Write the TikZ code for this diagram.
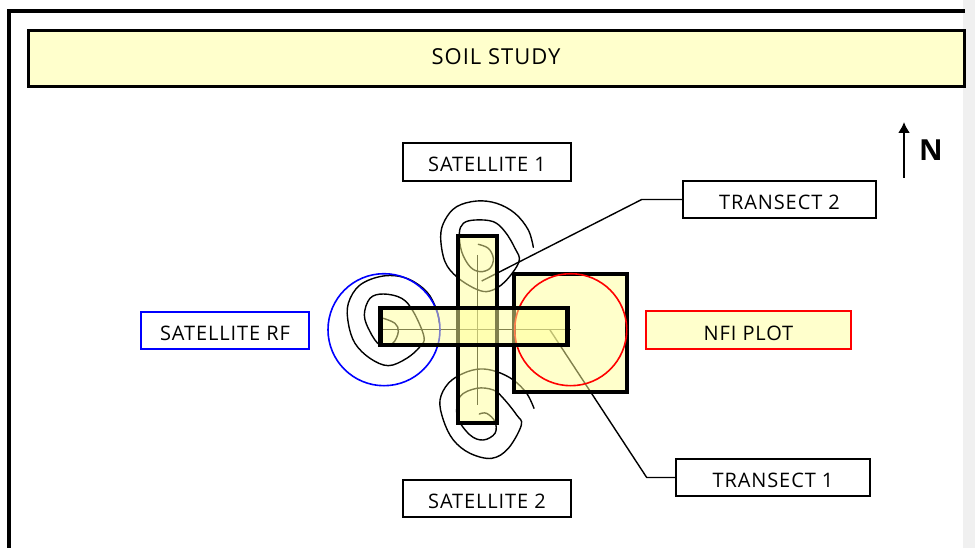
\documentclass[tikz,border=0pt]{standalone}
\usepackage{fontspec}
\usetikzlibrary{arrows.meta}
\setmainfont[LetterSpace=4.5]{Open Sans}
\newcommand{\lowtext}[1]{\raisebox{-10pt}[0pt][0pt]{#1}}
\definecolor{paleyellow}{HTML}{FFFFCC}
\definecolor{midyellow}{HTML}{FFFF99}
\definecolor{stripgrey}{HTML}{F0F0F0}
\tikzset{
  lbl/.style={draw=black,line width=1.4pt,inner sep=0pt,outer sep=0pt,font=\fontsize{20}{22}\selectfont,fill=white},
  plate/.style={draw=black,line width=4.8pt,fill=midyellow,fill opacity=.5,draw opacity=1,inner sep=0pt,outer sep=0pt},
  contour/.style={line width=1.4pt,black,line join=round,line cap=round},
  leader/.style={line width=1.4pt,black,line join=round},
  ring/.style={line width=1.6pt,draw opacity=1,fill=none,circle,inner sep=0pt,outer sep=0pt,minimum size=112pt}
}
\begin{document}
\begin{tikzpicture}[x=1pt,y=-1pt]
\useasboundingbox (0,0) rectangle (975,548);
\fill[white] (0,0) rectangle (975,548);
\fill[stripgrey] (963,0) rectangle (975,548);
\draw[line width=3.4pt] (9,548) -- (9,11) -- (965,11);
\node[lbl,draw=black,line width=3pt,fill=paleyellow,minimum width=936pt,minimum height=56pt] (title) at (496,59) {};
\node[font=\fontsize{22}{24}\selectfont] (titletext) at (496,56.5) {SOIL STUDY};
% contours
\begin{scope}[shift={(320,190)},scale=1/3]
\draw[contour] plot[smooth,tension=.6] coordinates {(640,172)(625,120)(585,70)(530,40)(470,33)(410,50)(375,90)(362,140)(375,215)(412,262)(470,298)(510,303)(555,275)(597,215)(585,175)(555,125)(520,95)(465,90)(430,100)(418,130)(425,185)(450,230)(480,245)(510,235)(520,205)(505,175)(475,163)};
\draw[contour] plot[smooth,tension=.6] coordinates {(642,655)(620,610)(580,570)(530,545)(480,537)(430,550)(385,580)(360,630)(370,690)(400,750)(450,790)(515,805)(565,775)(604,705)(590,675)(550,625)(520,600)(470,595)(420,620)(412,680)(450,735)(490,750)(525,730)(525,695)(500,670)(478,672)};
\draw[contour] plot[smooth,tension=.6] coordinates {(190,385)(225,400)(235,425)(218,460)(180,465)(150,425)(133,375)(150,325)(190,312)(245,325)(280,365)(312,440)(300,470)(260,505)(205,527)(150,505)(105,460)(85,400)(85,340)(120,285)(190,258)(260,265)(320,305)(350,360)(358,400)};
\draw[line width=1.5pt] (473,195) -- (473,645);
\draw[line width=1.5pt] (190,419) -- (752,419);
\end{scope}
% labels
\node[lbl,minimum width=168pt,minimum height=38pt] (sat1) at (487,162) {\lowtext{SATELLITE 1}};
\node[lbl,minimum width=193pt,minimum height=37pt] (tr2) at (779.5,199.5) {\lowtext{TRANSECT 2}};
\node[lbl,draw=blue,minimum width=168pt,minimum height=37pt] (satrf) at (225,330.5) {\lowtext{SATELLITE RF}};
\node[lbl,draw=red,fill=paleyellow,minimum width=205pt,minimum height=38pt] (nfi) at (748.5,330) {\lowtext{NFI PLOT}};
\node[lbl,minimum width=194pt,minimum height=37pt] (tr1) at (773,477.5) {\lowtext{TRANSECT 1}};
\node[lbl,minimum width=168pt,minimum height=37pt] (sat2) at (487,498.5) {\lowtext{SATELLITE 2}};
% leaders
\coordinate (tr2end) at (481.7,281);
\coordinate (tr1end) at (550,330);
\draw[leader] (tr2.west) -- (641.7,199.5) -- (tr2end);
\draw[leader] (tr1.west) -- (646.7,477.5) -- (tr1end);
% rings & plates
\node[ring,draw=blue] (bluering) at (384,329.7) {};
\node[plate,minimum width=113pt,minimum height=118pt] (square) at (570.5,333) {};
\node[ring,draw=red] (redring) at (570.7,329.7) {};
\node[plate,minimum width=39pt,minimum height=187pt] (vert) at (477.5,329.5) {};
\node[plate,minimum width=187pt,minimum height=37pt] (horiz) at (474.3,326.5) {};
% north
\coordinate (nbase) at (904,178);
\coordinate (ntip) at (904,122);
\draw[line width=1.8pt,-{Latex[length=11pt,width=12pt]}] (nbase) -- (ntip);
\node[font=\fontsize{29}{31}\selectfont\bfseries] (north) at (931,150.5) {N};
\end{tikzpicture}
\end{document}
